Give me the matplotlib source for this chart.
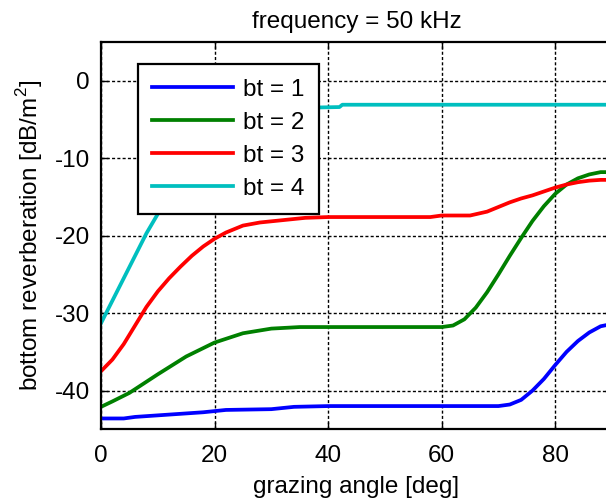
import numpy as np
import matplotlib
matplotlib.use('Agg')
import matplotlib.pyplot as plt

plt.rcParams['font.family']=['Liberation Sans','DejaVu Sans']
plt.rcParams['mathtext.fontset']='custom'
plt.rcParams['mathtext.rm']='Liberation Sans'
plt.rcParams['axes.unicode_minus']=False

# bt = 1
ang1=[0,4,6,10,14,18,22,30,34,40,50,60,70,72,74,76,78,80,82,84,86,88,90]
val1=[-43.6,-43.6,-43.4,-43.2,-43.0,-42.8,-42.5,-42.4,-42.1,-42.0,-42.0,-42.0,-42.0,-41.8,-41.2,-40.0,-38.5,-36.7,-35.0,-33.6,-32.5,-31.7,-31.4]
# bt = 2
ang2=[0,2,5,10,15,20,25,30,35,40,50,60,62,64,66,68,70,72,74,76,78,80,82,84,86,88,90]
val2=[-42.1,-41.4,-40.3,-37.9,-35.6,-33.8,-32.6,-32.0,-31.8,-31.8,-31.8,-31.8,-31.6,-30.8,-29.3,-27.3,-25.0,-22.6,-20.3,-18.1,-16.2,-14.6,-13.4,-12.6,-12.1,-11.8,-11.8]
# bt = 3
ang3=[0,2,4,6,8,10,12,14,16,18,20,22,25,28,32,36,40,50,58,60,65,68,70,72,74,76,78,80,82,84,86,88,90]
val3=[-37.5,-36.0,-34.0,-31.6,-29.2,-27.2,-25.5,-24.0,-22.6,-21.4,-20.4,-19.6,-18.7,-18.3,-18.0,-17.7,-17.6,-17.6,-17.6,-17.4,-17.4,-16.9,-16.3,-15.7,-15.2,-14.8,-14.3,-13.8,-13.4,-13.1,-12.9,-12.8,-12.8]
# bt = 4
ang4=[0,2,4,6,8,10,12,15,20,25,30,35,42,42.5,90]
val4=[-31.3,-28.4,-25.5,-22.6,-19.7,-17.2,-14.8,-11.6,-7.3,-5.0,-3.9,-3.5,-3.4,-3.1,-3.1]

series=[(ang1,val1),(ang2,val2),(ang3,val3),(ang4,val4)]
labels=['bt = 1','bt = 2','bt = 3','bt = 4']
clrs=['#0000ff','#008000','#ff0000','#00bfbf']

fs=17.5
fig=plt.figure(figsize=(6.06,5.04),dpi=100)
ax=fig.add_axes([0.1667,0.1482,0.8432,0.7685])
for (a,v),lab,c in zip(series,labels,clrs):
	ax.plot(a,v,color=c,lw=2.7,label=lab)
ax.set_xlim(0,90)
ax.set_ylim(-45,5)
ax.set_xticks([0,20,40,60,80])
ax.set_yticks([0,-10,-20,-30,-40])
ax.grid(True,color='k',linestyle=(0,(2.2,1.6)),linewidth=1.0)
ax.tick_params(direction='in',length=5,width=1,labelsize=fs,top=True,right=True,pad=8)
ax.tick_params(axis='x',pad=11)
for s in ax.spines.values():
	s.set_linewidth(1.6)
ax.set_xlabel('grazing angle [deg]',fontsize=fs,labelpad=7)
ax.set_ylabel('bottom reverberation [dB/m$^2$]',fontsize=fs,labelpad=7)
ax.set_title('frequency = 50 kHz',fontsize=fs,pad=10)
leg=ax.legend(loc='upper left',bbox_to_anchor=(0.0718,0.943),borderaxespad=0,fontsize=fs,
	handlelength=3.3,handletextpad=0.45,labelspacing=0.45,borderpad=0.6,fancybox=False,framealpha=1)
leg.get_frame().set_edgecolor('k')
leg.get_frame().set_linewidth(1.6)
fig.savefig('out.png',dpi=100)
